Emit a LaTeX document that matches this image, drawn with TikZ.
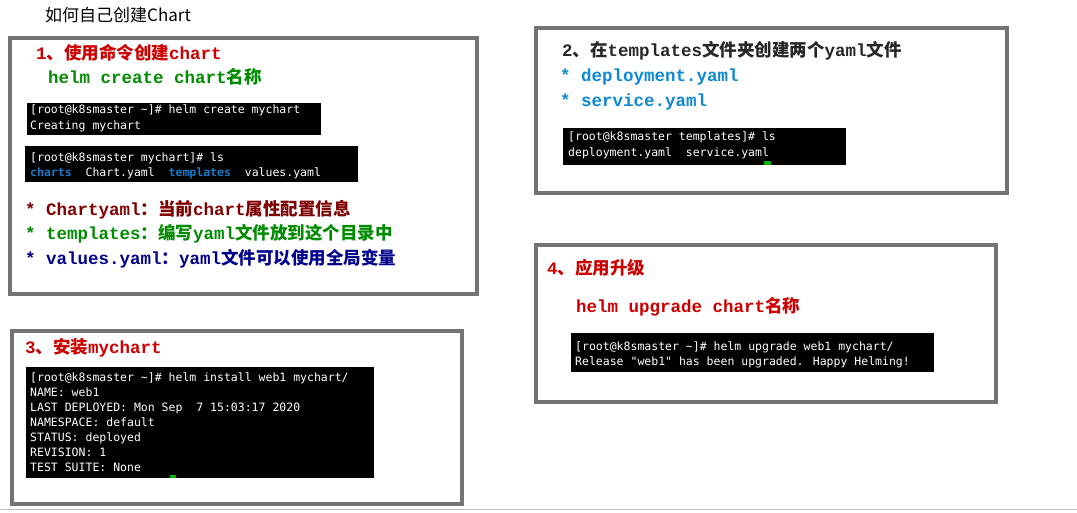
\documentclass[tikz,border=0pt]{standalone}
\usepackage{fontspec}
\setmainfont{Liberation Serif}
\setmonofont{Liberation Mono}
\newfontfamily\cjk{Noto Sans CJK SC}
\newfontfamily\term{DejaVu Sans Mono}
\begin{document}
\begin{tikzpicture}[x=1pt,y=-1pt,
 frame/.style={draw=gray!90!black,line width=4pt},
 termbg/.style={fill=black},
 tl/.style={anchor=base west,inner sep=0,font=\term\fontsize{11.5}{11.5}\selectfont,text=white},
 hd/.style={anchor=west,inner sep=0,font=\ttfamily\bfseries\fontsize{17.5}{17.5}\selectfont}]
\useasboundingbox (0,0) rectangle (1077,513);
\fill[white] (0,0) rectangle (1077,513);
\draw[gray!50] (0,509) -- (1077,509);
\node[anchor=west,inner sep=0,font=\cjk\fontsize{17}{17}\selectfont] (title) at (45,15) {如何自己创建Chart};
% frames
\draw[frame] (10,38) rectangle (477,294);
\draw[frame] (536,28) rectangle (1007,193);
\draw[frame] (12,331) rectangle (462,504);
\draw[frame] (536,245) rectangle (996,402);
% box1
\node[hd,text=red!80!black] (h1) at (36,53) {1{\cjk 、使用命令创建}chart};
\node[hd,text=green!55!black] (c1) at (48,77) {helm create chart{\cjk 名称}};
\fill[termbg] (27,103) rectangle (321,135);
\node[tl] (t1a) at (30,114) {[root@k8smaster \textasciitilde]\# helm create mychart};
\node[tl] (t1b) at (30,130) {Creating mychart};
\fill[termbg] (25,146) rectangle (358,182);
\node[tl] (t2a) at (30,162) {[root@k8smaster mychart]\# ls};
\node[tl] (t2b) at (30,177) {\textcolor{cyan!60!blue}{\bfseries charts}~~Chart.yaml~~\textcolor{cyan!60!blue}{\bfseries templates}~~values.yaml};
\node[hd,text=red!50!black] (b1) at (25,210) {* Chartyaml{\cjk ：当前}chart{\cjk 属性配置信息}};
\node[hd,text=green!55!black] (b2) at (25,234) {* templates{\cjk ：编写}yaml{\cjk 文件放到这个目录中}};
\node[hd,text=blue!55!black] (b3) at (25,259) {* values.yaml{\cjk ：}yaml{\cjk 文件可以使用全局变量}};
% box2
\node[hd,text=black!85] (h2) at (562,51) {2{\cjk 、在}templates{\cjk 文件夹创建两个}yaml{\cjk 文件}};
\node[hd,text=cyan!70!blue] (d2) at (560,77) {* deployment.yaml};
\node[hd,text=cyan!70!blue] (s2) at (560,102) {* service.yaml};
\fill[termbg] (563,128) rectangle (846,165);
\node[tl] (t3a) at (568,141) {[root@k8smaster templates]\# ls};
\node[tl] (t3b) at (568,157) {deployment.yaml~~service.yaml};
\fill[green!70!black] (764,161) rectangle (771,165);
% box3
\node[hd,text=red!80!black] (h3) at (25,348) {3{\cjk 、安装}mychart};
\fill[termbg] (26,367) rectangle (374,478);
\foreach \t [count=\i] in {{[root@k8smaster \textasciitilde]\# helm install web1 mychart/},{NAME: web1},{LAST DEPLOYED: Mon Sep~~7 15:03:17 2020},{NAMESPACE: default},{STATUS: deployed},{REVISION: 1},{TEST SUITE: None}}
  \node[tl] (t4\i) at (30,366+15*\i) {\t};
\fill[green!70!black] (170,475) rectangle (176,478);
% box4
\node[hd,text=red!80!black] (h4) at (547,268) {4{\cjk 、应用升级}};
\node[hd,text=red!80!black] (c4) at (576,307) {helm upgrade chart{\cjk 名称}};
\fill[termbg] (571,333) rectangle (934,372);
\node[tl] (t5a) at (575,350) {[root@k8smaster \textasciitilde]\# helm upgrade web1 mychart/};
\node[tl] (t5b) at (575,365) {Release "web1" has been upgraded. Happy Helming!};
\end{tikzpicture}
\end{document}
